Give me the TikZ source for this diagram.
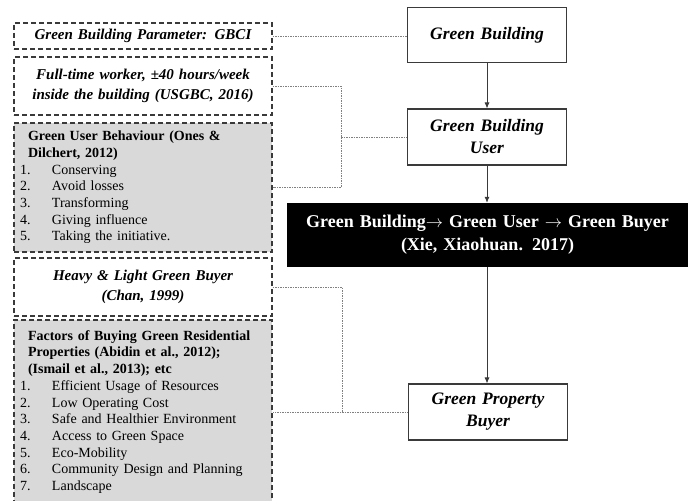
\documentclass[tikz,border=0pt]{standalone}
\usepackage{fontspec}
\setmainfont{Liberation Serif}
\usetikzlibrary{arrows.meta,positioning}
\definecolor{boxgrey}{HTML}{D9D9D9}
\definecolor{edgegrey}{HTML}{3A3A3A}
\tikzset{
  >={Latex[length=6pt,width=5pt]},
  infobox/.style={draw=edgegrey, line width=1.1pt, dash pattern=on 5pt off 3pt,
                  minimum width=258pt, text width=252pt, inner xsep=3pt,
                  font=\fontsize{14}{16.7}\selectfont},
  notebox/.style={infobox, align=center, font=\fontsize{15}{20}\selectfont\bfseries\itshape},
  listbox/.style={infobox, fill=boxgrey, align=left},
  flowbox/.style={draw=edgegrey, line width=1.1pt, minimum width=158pt, text width=152pt,
                  align=center, font=\fontsize{17.5}{22}\selectfont\bfseries\itshape},
  keybox/.style={fill=black, text=white, minimum width=401pt, minimum height=64pt,
                 text width=395pt, align=center, font=\fontsize{18}{23}\selectfont\bfseries},
  flow/.style={draw=edgegrey, line width=0.8pt, ->},
  link/.style={draw=gray, line width=0.7pt, dash pattern=on 1.5pt off 1pt}
}
\newcommand{\itm}[2]{\hspace*{3pt}\makebox[32pt][l]{#1.}#2}
\newcommand{\hd}{\hspace*{11pt}}
\begin{document}
\begin{tikzpicture}[x=1pt,y=-1pt]
    \clip (0,0) rectangle (692,500);
    % Left column
    \node (param) [notebox, minimum height=26pt] at (143,36) {Green Building Parameter: GBCI};
    \node (worker) [notebox, minimum height=58pt] at (143,86)
          {Full-time worker, \textpm40 hours/week\\inside the building (USGBC, 2016)};
    \node (behave) [listbox, minimum height=129pt] at (143,187.5)
          {\hd\textbf{Green User Behaviour (Ones \&}\\
           \hd\textbf{Dilchert, 2012)}\\
           \itm{1}{Conserving}\\
           \itm{2}{Avoid losses}\\
           \itm{3}{Transforming}\\
           \itm{4}{Giving influence}\\
           \itm{5}{Taking the initiative.}};
    \node (heavy) [notebox, minimum height=58pt] at (143,287)
          {Heavy \& Light Green Buyer\\(Chan, 1999)};
    \node (factors) [listbox, minimum height=184pt] at (143,412)
          {\hd\textbf{Factors of Buying Green Residential}\\
           \hd\textbf{Properties (Abidin et al., 2012);}\\
           \hd\textbf{(Ismail et al., 2013); etc}\\
           \itm{1}{Efficient Usage of Resources}\\
           \itm{2}{Low Operating Cost}\\
           \itm{3}{Safe and Healthier Environment}\\
           \itm{4}{Access to Green Space}\\
           \itm{5}{Eco-Mobility}\\
           \itm{6}{Community Design and Planning}\\
           \itm{7}{Landscape}};
    % Right column
    \node (gb) [flowbox, minimum height=55pt] at (487,35) {Green Building};
    \node (gbu) [flowbox, minimum height=56pt] at (487,137) {Green Building\\User};
    \node (chain) [keybox] at (487.5,235)
          {Green Building$\rightarrow$ Green User $\rightarrow$ Green Buyer\\(Xie, Xiaohuan. 2017)};
    \node (gpb) [flowbox, minimum height=56pt] at (488,412) {Green Property\\Buyer};
    % Flow arrows
    \draw [flow] (gb) -- (gbu);
    \draw [flow] (gbu) -- (gbu.south |- chain.north);
    \draw [flow] (gbu.south |- chain.south) -- (gbu.south |- gpb.north);
    % Dotted links
    \coordinate (userjoin) at (341,137);
    \coordinate (buyerjoin) at (342,412);
    \draw [link] (param.east) -- (param.east -| gb.west);
    \draw [link] (worker.east) -| (userjoin) |- (behave.east);
    \draw [link] (userjoin) -- (gbu.west);
    \draw [link] (heavy.east) -| (buyerjoin) -- (factors.east);
    \draw [link] (buyerjoin) -- (gpb.west);
\end{tikzpicture}
\end{document}
